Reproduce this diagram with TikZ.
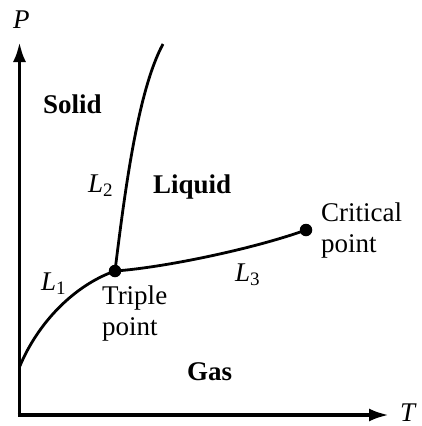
\documentclass[tikz,border=0pt]{standalone}
\usepackage{fontspec}
\setmainfont{Liberation Serif}
\usetikzlibrary{arrows.meta}
\newcommand{\Lsub}[1]{\textit{L}\raisebox{-4.5pt}{\fontsize{19}{19}\selectfont #1}}
\begin{document}
\begin{tikzpicture}[x=1pt,y=-1pt,
  axis/.style={line width=3.6pt,-{Latex[length=20pt,width=13pt]}},
  curve/.style={line width=2.8pt},
  dot/.style={circle,fill=black,inner sep=0pt,minimum size=12.5pt},
  lbl/.style={inner sep=0pt,font=\fontsize{27}{31}\selectfont},
  blbl/.style={lbl,font=\fontsize{27}{31}\selectfont\bfseries}]
\useasboundingbox (0,0) rectangle (421,426);
% axes
\coordinate (o) at (19.5,415);
\coordinate (ytip) at (19.5,42);
\coordinate (xtip) at (389,415);
\draw[axis] ([yshift=1.8pt]o) -- (ytip);
\draw[axis] ([xshift=-1.8pt]o) -- (xtip);
\node[lbl,anchor=base west] (P) at (13,28) {\textit{P}};
\node[lbl,anchor=base west] (T) at (400,421) {\textit{T}};
% points
\node[dot] (tp) at (115,271) {};
\node[dot] (cp) at (306,230) {};
\coordinate (l1s) at (19.5,367);
\coordinate (l2e) at (163,44);
% curves
\draw[curve] (l1s) .. controls (38,322) and (75,285) .. (tp.center);
\draw[curve] (tp.center) .. controls (125,190) and (138,90) .. (l2e);
\draw[curve] (tp.center) .. controls (160,268) and (250,250) .. (cp.center);
% labels
\node[blbl,anchor=base west] (solid) at (43,113) {Solid};
\node[blbl,anchor=base west] (liquid) at (153,193) {Liquid};
\node[blbl,anchor=base west] (gas) at (187,380) {Gas};
\node[lbl,anchor=base west] (L1) at (41,290) {\Lsub{1}};
\node[lbl,anchor=base west] (L2) at (88,192) {\Lsub{2}};
\node[lbl,anchor=base west] (L3) at (235,281) {\Lsub{3}};
\node[lbl,anchor=north west,align=left] (tpl) at (102,286) {Triple\\point};
\node[lbl,anchor=north west,align=left] (cpl) at (321,203) {Critical\\point};
\end{tikzpicture}
\end{document}
